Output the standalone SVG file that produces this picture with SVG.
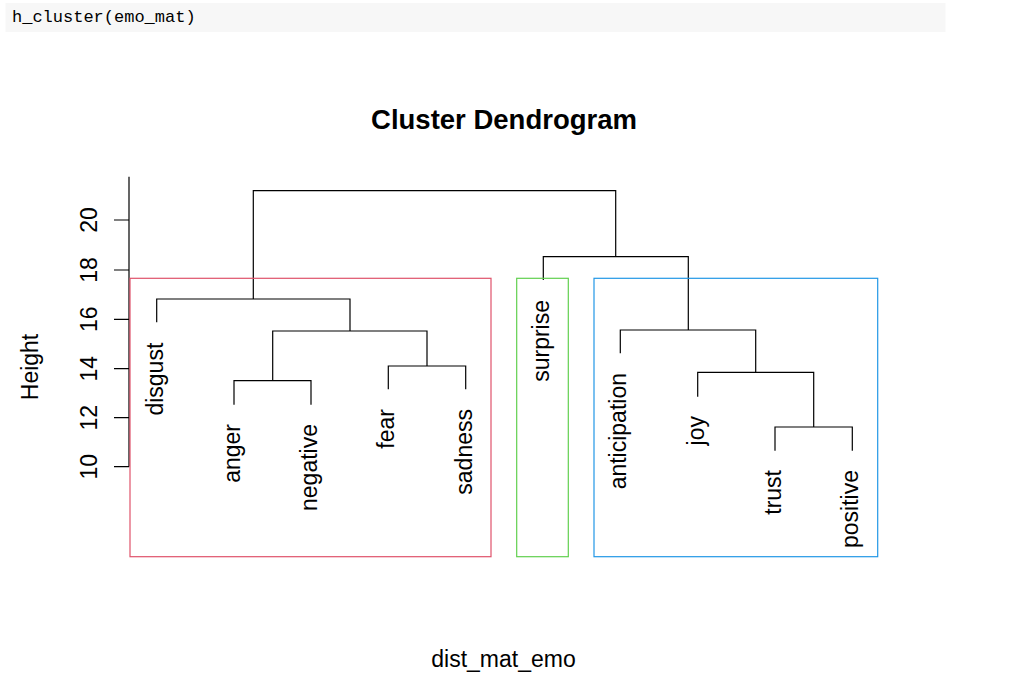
<svg xmlns="http://www.w3.org/2000/svg" width="1031" height="676" viewBox="0 0 1031 676">
<style>
.t{font-family:"Liberation Sans",Arial,Helvetica,sans-serif;font-size:23px;fill:#000}
.lab{text-anchor:end}
.tk{text-anchor:middle}
.ln{stroke:#000;stroke-width:1.2;fill:none}
.box{fill:none;stroke-width:1.2}
</style>
<rect x="5.5" y="3" width="940" height="29" fill="#f7f7f7"/>
<text x="12" y="22" font-family="'Liberation Mono','Courier New',monospace" font-size="17" fill="#000">h_cluster(emo_mat)</text>
<text x="504" y="129" text-anchor="middle" font-family="'Liberation Sans',Arial,Helvetica,sans-serif" font-size="27.5" font-weight="bold" fill="#000">Cluster Dendrogram</text>
<g id="axis">
<path class="ln" d="M129 176.7V466.7M114 220H129M114 270H129M114 319.3H129M114 368.7H129M114 417.7H129M114 466.7H129"/>
<text class="t tk" transform="translate(97,220) rotate(-90)">20</text>
<text class="t tk" transform="translate(97,270) rotate(-90)">18</text>
<text class="t tk" transform="translate(97,319.3) rotate(-90)">16</text>
<text class="t tk" transform="translate(97,368.7) rotate(-90)">14</text>
<text class="t tk" transform="translate(97,417.7) rotate(-90)">12</text>
<text class="t tk" transform="translate(97,466.7) rotate(-90)">10</text>
<text class="t tk" transform="translate(38,367) rotate(-90)">Height</text>
</g>
<text class="t" x="503.5" y="666.5" text-anchor="middle">dist_mat_emo</text>
<g id="connectors">
<path class="ln" d="M253.3 299V190.7H615.7V256.7"/>
<path class="ln" d="M156.7 322.3V299H350V331"/>
<path class="ln" d="M272.7 380.7V331H427V366"/>
<path class="ln" d="M234 404.7V380.7H311V404.7"/>
<path class="ln" d="M388.3 389.3V366H465.7V389.3"/>
<path class="ln" d="M543.3 280V256.7H688.3V330"/>
<path class="ln" d="M620.3 353.3V330H755.7V372.3"/>
<path class="ln" d="M697.7 396.7V372.3H813.7V427"/>
<path class="ln" d="M775 450.7V427H852.3V450.7"/>
</g>
<g id="leaves">
<g id="n-disgust"><text class="t lab" transform="translate(162.7,342.7) rotate(-90)">disgust</text></g>
<g id="n-anger"><text class="t lab" transform="translate(240,424) rotate(-90)">anger</text></g>
<g id="n-negative"><text class="t lab" transform="translate(317,424) rotate(-90)">negative</text></g>
<g id="n-fear"><text class="t lab" transform="translate(394.3,409) rotate(-90)">fear</text></g>
<g id="n-sadness"><text class="t lab" transform="translate(471.7,409) rotate(-90)">sadness</text></g>
<g id="n-surprise"><text class="t lab" transform="translate(549.3,300) rotate(-90)">surprise</text></g>
<g id="n-anticipation"><text class="t lab" transform="translate(626.3,373) rotate(-90)">anticipation</text></g>
<g id="n-joy"><text class="t lab" transform="translate(703.7,416) rotate(-90)">joy</text></g>
<g id="n-trust"><text class="t lab" transform="translate(781,470) rotate(-90)">trust</text></g>
<g id="n-positive"><text class="t lab" transform="translate(858.3,470) rotate(-90)">positive</text></g>
</g>
<g id="clusters">
<rect id="c1" class="box" x="130" y="278.3" width="361" height="278.4" stroke="#DF536B"/>
<rect id="c2" class="box" x="516.7" y="278.3" width="51.6" height="278.4" stroke="#61D04F"/>
<rect id="c3" class="box" x="594" y="278.3" width="283.7" height="278.4" stroke="#2297E6"/>
</g>
</svg>
